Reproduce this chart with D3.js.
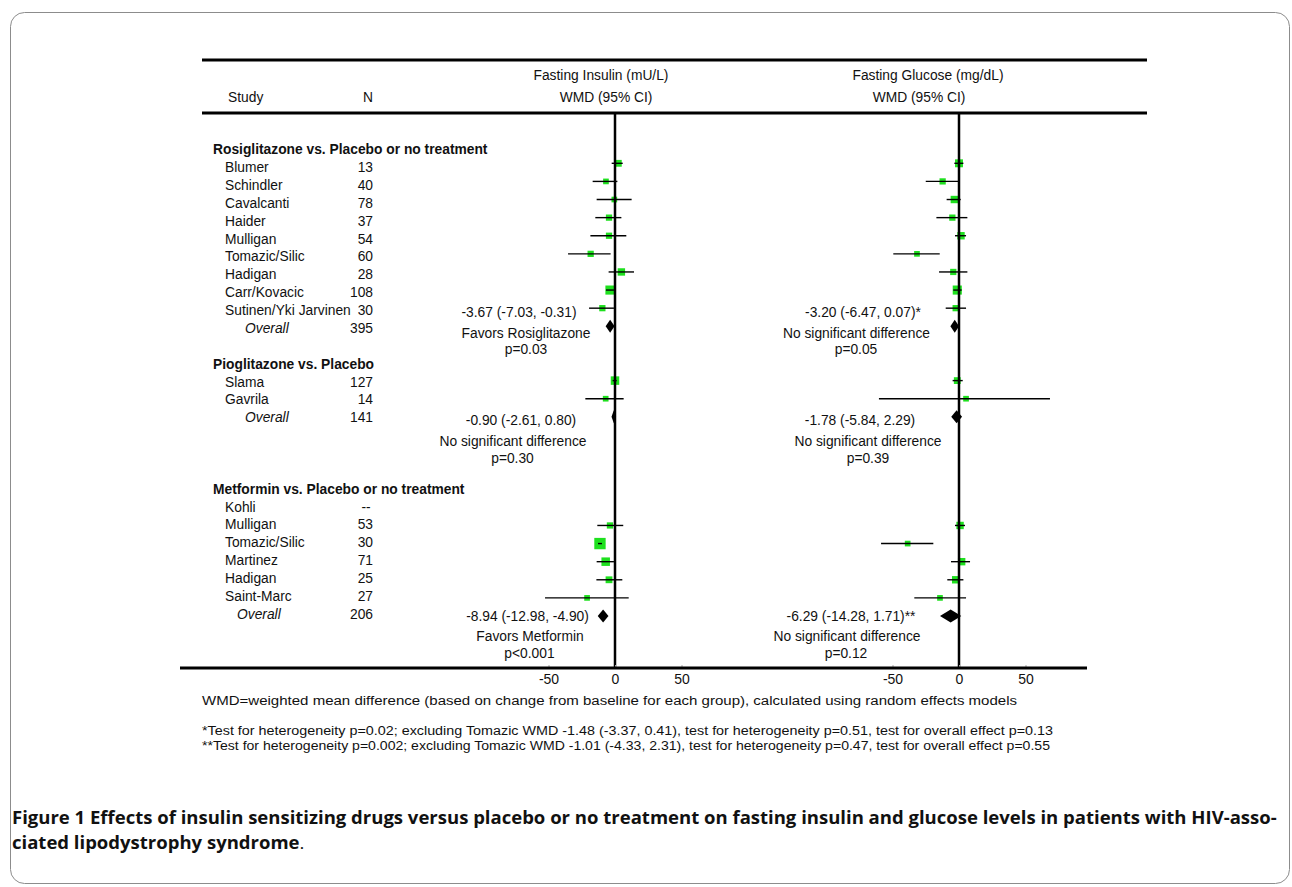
<!DOCTYPE html>
<meta charset="utf-8">
<style>
body { margin: 0; background: #fff; }
svg text { font-family: "Liberation Sans", Arial, Helvetica, sans-serif; fill: #111; }
.lbl { font-size: 13.8px; }
.grp { font-size: 13.8px; font-weight: bold; }
.ovr { font-size: 13.8px; font-style: italic; }
.tick text { font-family: "Liberation Sans Narrow", "Liberation Sans", sans-serif; font-size: 14px; }
.tick line { stroke: #aaa; }
.note { font-size: 12.5px; }
.cap { font-family: "Open Sans", "Noto Sans", sans-serif; font-size: 17px; font-weight: bold; }
</style>
<svg width="1292" height="887"></svg>
<script src="https://d3js.org/d3.v7.min.js"></script>
<script>

var groupNames = ["Rosiglitazone vs. Placebo or no treatment", "Pioglitazone vs. Placebo", "Metformin vs. Placebo or no treatment"];
var studyGroup = [0,0,0,0,0,0,0,0,0, 1,1, 2,2,2,2,2,2];
var studyNames = ["Blumer","Schindler","Cavalcanti","Haider","Mulligan","Tomazic/Silic","Hadigan","Carr/Kovacic","Sutinen/Yki Jarvinen",
                  "Slama","Gavrila",
                  "Kohli","Mulligan","Tomazic/Silic","Martinez","Hadigan","Saint-Marc"];
var studyN = ["13","40","78","37","54","60","28","108","30", "127","14", "--","53","30","71","25","27"];

// fasting insulin, mU/L
var insulinEst    = [2.5, -6.8, -0.5, -4.5, -4.5, -18.3, 4.8, -3.8, -9.5,   0, -7,      null, -3.8, -11.3, -7, -4.5, -21];
var insulinLo     = [-2.5, -16.8, -13.8, -14.8, -18.5, -35.3, -4.8, -6.8, -19.5,  -1.8, -22.3,  null, -13.3, -12.8, -13.8, -14, -52.6];
var insulinHi     = [5.8, 1.8, 12.5, 4.8, 8.5, -3.3, 14.3, -0.8, -0.8,  1.3, 6.5,  null, 6.2, -9.8, -0.8, 5.5, 10.3];
var insulinWeight = [8.9, 6.2, 6.2, 7.5, 7.5, 7.5, 10.5, 15.9, 7.5,  13.9, 6.2,  null, 7.5, 24.8, 13.9, 8.9, 6.2];

// fasting glucose, mg/dL
var glucoseEst    = [0, -12.3, -3.5, -5, 1.5, -31.6, -4.3, -1.3, -2.5,  -1.3, 5.3,  null, 0.8, -38.6, 2, -2.5, -14.3];
var glucoseLo     = [-3.5, -25, -9.3, -17, -3, -49.4, -15, -4.3, -10,  -4.8, -60.2,  null, -3, -58.6, -6, -8.8, -33.6];
var glucoseHi     = [3.3, -0.5, 1.3, 6.3, 5.3, -14.5, 6.3, 2, 5.3,  2.8, 68.4,  null, 4.5, -19.3, 8.3, 3.3, 5.3];
var glucoseWeight = [12.1, 7.5, 10.5, 7.5, 10.5, 6.2, 7.5, 15.9, 7.5,  8.9, 6.2,  null, 10.5, 6.2, 10.5, 10.5, 6.2];

var overallN = ["395","141","206"];
var insulinOverall = [[-3.67, -7.03, -0.31], [-0.90, -2.61, 0.80], [-8.94, -12.98, -4.90]];
var glucoseOverall = [[-3.20, -6.47, 0.07], [-1.78, -5.84, 2.29], [-6.29, -14.28, 1.71]];
var insulinMark = ["", "", ""];
var glucoseMark = ["*", "", "**"];
var insulinVerdict = ["Favors Rosiglitazone", "No significant difference", "Favors Metformin"];
var insulinP = ["p=0.03", "p=0.30", "p<0.001"];
var glucoseVerdict = ["No significant difference", "No significant difference", "No significant difference"];
var glucoseP = ["p=0.05", "p=0.39", "p=0.12"];
var ticks = [-50, 0, 50];

var footnotes = [
  "WMD=weighted mean difference (based on change from baseline for each group), calculated using random effects models",
  "*Test for heterogeneity p=0.02; excluding Tomazic WMD -1.48 (-3.37, 0.41), test for heterogeneity p=0.51, test for overall effect p=0.13",
  "**Test for heterogeneity p=0.002; excluding Tomazic WMD -1.01 (-4.33, 2.31), test for heterogeneity p=0.47, test for overall effect p=0.55"
];

var svg = d3.select("svg");

// frame
svg.append("rect").attr("x", 10.5).attr("y", 12.5).attr("width", 1279).attr("height", 871)
  .attr("rx", 14).attr("fill", "none").attr("stroke", "#8c8c8c");

// row layout: header, studies, overall, blank rows
var gapAfter = [1, 3, 0];
var rows = [], r = 0;
groupNames.forEach(function(g, gi) {
  rows.push({type: "group", i: r++, g: gi});
  studyNames.forEach(function(s, si) {
    if (studyGroup[si] == gi) rows.push({type: "study", i: r++, g: gi, s: si});
  });
  rows.push({type: "overall", i: r++, g: gi});
  r += gapAfter[gi];
});

var markY = d3.scaleLinear().domain([0, 26]).range([145.2, 616]);
var textY = d3.scaleLinear().domain([0, 26]).range([149.5, 614]);
function base(i) { return textY(i) + 4.8; }

var xIns = d3.scaleLinear().domain([-50, 50]).range([548.5, 681.5]);
var xGlu = d3.scaleLinear().domain([-50, 50]).range([892.5, 1025.5]);
var size = d3.scaleSqrt().domain([0, 30]).range([0, 12.5]);

// header rules
[60, 113].forEach(function(y) {
  svg.append("line").attr("x1", 202).attr("x2", 1147).attr("y1", y).attr("y2", y)
    .attr("stroke", "#000").attr("stroke-width", 3);
});
svg.append("text").attr("class", "lbl").attr("x", 228).attr("y", 102).text("Study");
svg.append("text").attr("class", "lbl").attr("x", 368).attr("y", 102).attr("text-anchor", "middle").text("N");
svg.append("text").attr("class", "lbl").attr("x", 601).attr("y", 80).attr("text-anchor", "middle").text("Fasting Insulin (mU/L)");
svg.append("text").attr("class", "lbl").attr("x", 606).attr("y", 102).attr("text-anchor", "middle").text("WMD (95% CI)");
svg.append("text").attr("class", "lbl").attr("x", 928).attr("y", 80).attr("text-anchor", "middle").text("Fasting Glucose (mg/dL)");
svg.append("text").attr("class", "lbl").attr("x", 919).attr("y", 102).attr("text-anchor", "middle").text("WMD (95% CI)");

// left table
var overallX = [245, 245, 237];
rows.forEach(function(d) {
  if (d.type == "group") {
    svg.append("text").attr("class", "grp").attr("x", 213).attr("y", base(d.i)).text(groupNames[d.g]);
  } else if (d.type == "study") {
    svg.append("text").attr("class", "lbl").attr("x", 225).attr("y", base(d.i)).text(studyNames[d.s]);
    svg.append("text").attr("class", "lbl").attr("x", studyN[d.s] == "--" ? 366 : 373).attr("y", base(d.i))
      .attr("text-anchor", studyN[d.s] == "--" ? "middle" : "end").text(studyN[d.s]);
  } else {
    svg.append("text").attr("class", "ovr").attr("x", overallX[d.g]).attr("y", base(d.i)).text("Overall");
    svg.append("text").attr("class", "lbl").attr("x", 373).attr("y", base(d.i)).attr("text-anchor", "end").text(overallN[d.g]);
  }
});

function fmt(v) { return v.toFixed(2); }

// annotation placement around each pooled estimate
var annY = [[-15.5, 4.8, 21], [3.2, 24.2, 40.8], [2, 22, 39.3]];
var insAnnX = [[-96, -89, -89], [-94, -102, -102.5], [-87.5, -85, -85.5]];
var gluAnnX = [[-96, -102.5, -103], [-99, -91, -91], [-108, -112, -113]];

function panel(x, est, lo, hi, wt, overall, mark, verdict, pv, annX) {
  var g = svg.append("g");
  var zero = x(0);

  rows.forEach(function(d) {
    if (d.type == "study" && est[d.s] != null) {
      var y = markY(d.i), s = size(wt[d.s]);
      g.append("rect").attr("x", x(est[d.s]) - s / 2).attr("y", y - s / 2)
        .attr("width", s).attr("height", s).attr("fill", "#1ee01e");
      g.append("line").attr("x1", x(lo[d.s])).attr("x2", x(hi[d.s])).attr("y1", y).attr("y2", y)
        .attr("stroke", "#000").attr("stroke-width", 1.4);
    }
    if (d.type == "overall") {
      var o = overall[d.g], y = markY(d.i), h = 6.5;
      g.append("polygon")
        .attr("points", [[x(o[1]), y], [x(o[0]), y - h], [x(o[2]), y], [x(o[0]), y + h]].join(" "))
        .attr("fill", "#000");
      var c = textY(d.i) + 4.8;
      var lines = [fmt(o[0]) + " (" + fmt(o[1]) + ", " + fmt(o[2]) + ")" + mark[d.g], verdict[d.g], pv[d.g]];
      lines.forEach(function(t, k) {
        g.append("text").attr("class", "lbl").attr("text-anchor", "middle")
          .attr("x", zero + annX[d.g][k]).attr("y", c + annY[d.g][k]).text(t);
      });
    }
  });

  g.append("line").attr("x1", zero).attr("x2", zero).attr("y1", 113).attr("y2", 668)
    .attr("stroke", "#000").attr("stroke-width", 2.5);

  var ax = svg.append("g").attr("transform", "translate(0,668)")
    .call(d3.axisBottom(x).tickValues(ticks).tickSize(-3).tickPadding(6).tickFormat(String));
  ax.select(".domain").remove();
}

panel(xIns, insulinEst, insulinLo, insulinHi, insulinWeight, insulinOverall, insulinMark, insulinVerdict, insulinP, insAnnX);
panel(xGlu, glucoseEst, glucoseLo, glucoseHi, glucoseWeight, glucoseOverall, glucoseMark, glucoseVerdict, glucoseP, gluAnnX);

svg.append("line").attr("x1", 180).attr("x2", 1087).attr("y1", 668).attr("y2", 668)
  .attr("stroke", "#000").attr("stroke-width", 3);

// footnotes
var noteY = [705, 735, 750];
var noteW = [815, 851, 848];
footnotes.forEach(function(t, k) {
  svg.append("text").attr("class", "note").attr("x", 202).attr("y", noteY[k])
    .attr("textLength", noteW[k]).attr("lengthAdjust", "spacingAndGlyphs").text(t);
});

// caption
var cap = svg.append("g");
var c1 = cap.append("text").attr("class", "cap").attr("x", 12).attr("y", 824);
c1.append("tspan").text("Figure 1 ");
c1.append("tspan").text("Effects of insulin sensitizing drugs versus placebo or no treatment on fasting insulin and glucose levels in patients with HIV-asso-");
var c2 = cap.append("text").attr("class", "cap").attr("x", 12).attr("y", 849);
c2.append("tspan").text("ciated lipodystrophy syndrome");
c2.append("tspan").attr("font-weight", "normal").text(".");
var sx = 1266 / c1.node().getComputedTextLength();
cap.attr("transform", "translate(12,0) scale(" + sx + ",1) translate(-12,0)");

</script>
